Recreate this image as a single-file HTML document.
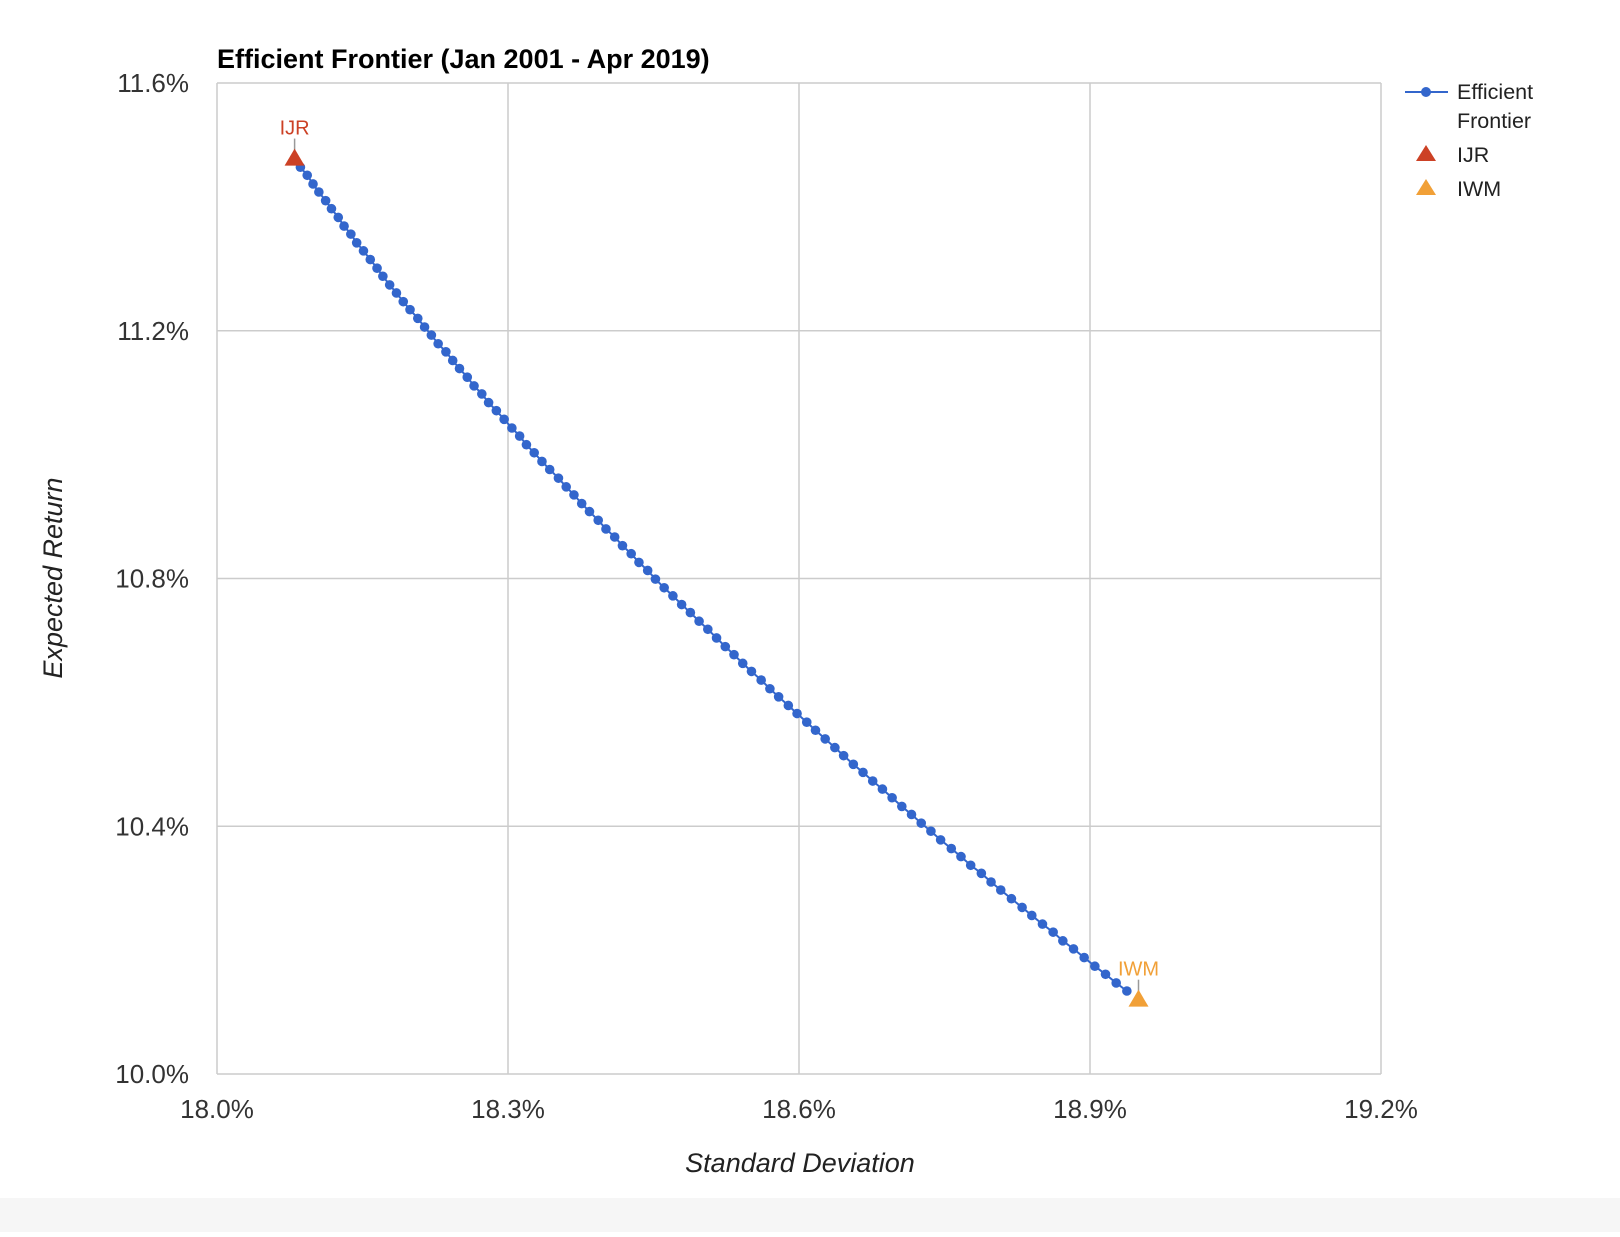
<!DOCTYPE html>
<html><head><meta charset="utf-8"><style>
html,body{margin:0;padding:0;background:#fff;}
body{width:1620px;height:1232px;overflow:hidden;font-family:"Liberation Sans",Arial,sans-serif;}
</style></head><body>
<svg id="chart" width="1620" height="1232" xmlns="http://www.w3.org/2000/svg" font-family="Liberation Sans, Arial, sans-serif">
<rect x="0" y="0" width="1620" height="1232" fill="#fff"/>
<rect x="0" y="1198" width="1620" height="34" fill="#f6f6f6"/>
<text x="217" y="68" font-size="27" font-weight="bold" fill="#000">Efficient Frontier (Jan 2001 - Apr 2019)</text>
<g id="grid"></g>
<g id="axes"></g>
<g id="series"></g>
<text x="800" y="1172" font-size="27" font-style="italic" text-anchor="middle" fill="#222">Standard Deviation</text>
<text x="0" y="0" transform="translate(62,578) rotate(-90)" font-size="27" font-style="italic" text-anchor="middle" fill="#222">Expected Return</text>
<g>
 <g>
  <line x1="1405" y1="92" x2="1448" y2="92" stroke="#3366cc" stroke-width="2"/>
  <circle cx="1426" cy="92" r="5" fill="#3366cc"/>
  <text x="1457" y="99" font-size="21.5" fill="#222">Efficient</text>
  <text x="1457" y="128" font-size="21.5" fill="#222">Frontier</text>
 </g>
 <g>
  <polygon points="1426,145 1436,161 1416,161" fill="#cc4125"/>
  <text x="1457" y="162" font-size="21.5" fill="#222">IJR</text>
 </g>
 <g>
  <polygon points="1426,179 1436,195 1416,195" fill="#f1a037"/>
  <text x="1457" y="196" font-size="21.5" fill="#222">IWM</text>
 </g>
</g>
</svg>
<script>
const xTicks = [18.0, 18.3, 18.6, 18.9, 19.2];
const yTicks = [10.0, 10.4, 10.8, 11.2, 11.6];
const xTickLabels = ["18.0%", "18.3%", "18.6%", "18.9%", "19.2%"];
const yTickLabels = ["10.0%", "10.4%", "10.8%", "11.2%", "11.6%"];
const frontierStd = [18.080,18.086,18.093,18.099,18.105,18.112,18.118,18.125,18.131,18.138,18.144,18.151,18.158,18.165,18.171,18.178,18.185,18.192,18.199,18.207,18.214,18.221,18.228,18.236,18.243,18.250,18.258,18.265,18.273,18.280,18.288,18.296,18.304,18.312,18.319,18.327,18.335,18.343,18.352,18.360,18.368,18.376,18.384,18.393,18.401,18.410,18.418,18.427,18.435,18.444,18.452,18.461,18.470,18.479,18.488,18.497,18.506,18.515,18.524,18.533,18.542,18.551,18.561,18.570,18.579,18.589,18.598,18.608,18.617,18.627,18.637,18.646,18.656,18.666,18.676,18.686,18.696,18.706,18.716,18.726,18.736,18.746,18.757,18.767,18.777,18.788,18.798,18.808,18.819,18.830,18.840,18.851,18.862,18.872,18.883,18.894,18.905,18.916,18.927,18.938];
const frontierReturn = [11.478,11.464,11.451,11.437,11.424,11.410,11.397,11.383,11.369,11.356,11.342,11.329,11.315,11.301,11.288,11.274,11.261,11.247,11.234,11.220,11.206,11.193,11.179,11.166,11.152,11.139,11.125,11.111,11.098,11.084,11.071,11.057,11.043,11.030,11.016,11.003,10.989,10.976,10.962,10.948,10.935,10.921,10.908,10.894,10.880,10.867,10.853,10.840,10.826,10.813,10.799,10.785,10.772,10.758,10.745,10.731,10.718,10.704,10.690,10.677,10.663,10.650,10.636,10.622,10.609,10.595,10.582,10.568,10.555,10.541,10.527,10.514,10.500,10.487,10.473,10.460,10.446,10.432,10.419,10.405,10.392,10.378,10.364,10.351,10.337,10.324,10.310,10.297,10.283,10.269,10.256,10.242,10.229,10.215,10.202,10.188,10.174,10.161,10.147,10.134];
const assetNames = ["IJR", "IWM"];
const assetStd = [18.080, 18.950];
const assetReturn = [11.478, 10.120];
const assetColors = ["#cc4125", "#f1a037"];

const NS = "http://www.w3.org/2000/svg";
const L = 217, R = 1381, T = 83, B = 1074;
const xMin = 18.0, xMax = 19.2, yMin = 10.0, yMax = 11.6;
function xs(v){ return L + (v - xMin) / (xMax - xMin) * (R - L); }
function ys(v){ return B - (v - yMin) / (yMax - yMin) * (B - T); }
function mk(tag, attrs, parent){
  const e = document.createElementNS(NS, tag);
  for (const k in attrs) e.setAttribute(k, attrs[k]);
  parent.appendChild(e);
  return e;
}
const grid = document.getElementById('grid');
const axes = document.getElementById('axes');
const series = document.getElementById('series');

xTicks.forEach((t, i) => {
  const ln = mk('line', {x1: xs(t), x2: xs(t), y1: T, y2: B, stroke: '#cccccc', 'stroke-width': 1.5}, grid);
  
  
  const tx = mk('text', {x: xs(t), y: B + 44, 'font-size': 26, 'text-anchor': 'middle', fill: '#333'}, axes);
  tx.textContent = xTickLabels[i];
  
  
});
yTicks.forEach((t, i) => {
  const ln = mk('line', {x1: L, x2: R, y1: ys(t), y2: ys(t), stroke: '#cccccc', 'stroke-width': 1.5}, grid);
  
  
  const tx = mk('text', {x: 189, y: ys(t) + 9, 'font-size': 26, 'text-anchor': 'end', fill: '#333'}, axes);
  tx.textContent = yTickLabels[i];
  
  
});

const pts = frontierStd.map((s, i) => xs(s) + ',' + ys(frontierReturn[i])).join(' ');
const pl = mk('polyline', {points: pts, fill: 'none', stroke: '#3366cc', 'stroke-width': 2}, series);


frontierStd.forEach((s, i) => {
  const c = mk('circle', {cx: xs(s), cy: ys(frontierReturn[i]), r: 4.8, fill: '#3366cc'}, series);
  
  
});
assetNames.forEach((n, i) => {
  const x = xs(assetStd[i]), y = ys(assetReturn[i]);
  const ld = mk('line', {x1: x, x2: x, y1: y - 20, y2: y - 6, stroke: '#999', 'stroke-width': 1.5}, series);
  
  
  const tri = mk('polygon', {points: `${x},${y-10} ${x+10},${y+7} ${x-10},${y+7}`, fill: assetColors[i]}, series);
  
  
  const tx = mk('text', {x: x, y: y - 24, 'font-size': 20, 'text-anchor': 'middle', fill: assetColors[i]}, series);
  tx.textContent = n;
  
  
});
</script>
</body></html>
